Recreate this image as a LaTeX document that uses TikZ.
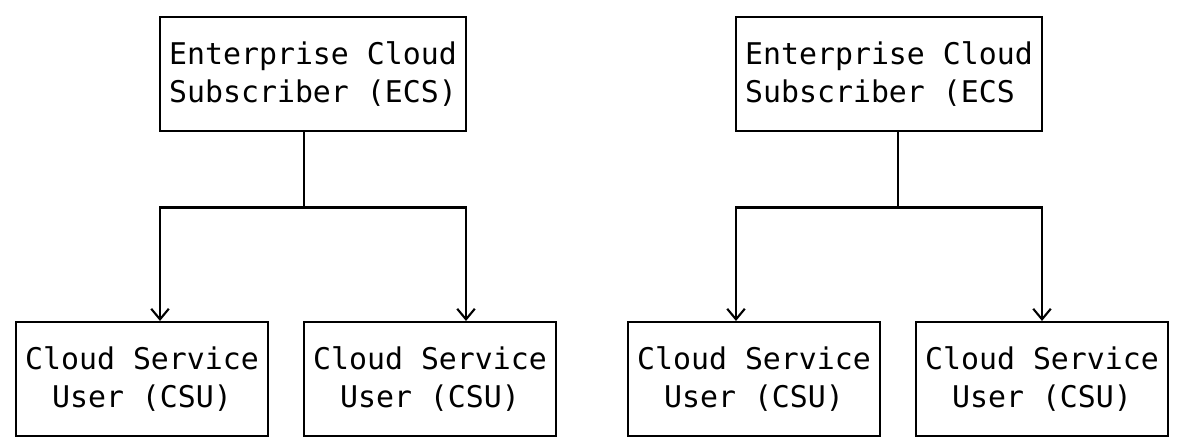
\documentclass[tikz,border=0pt]{standalone}
\usepackage{fontspec}
\newfontfamily\boxfont{DejaVu Sans Mono}
\usetikzlibrary{arrows.meta}
\tikzstyle{box} = [draw=black, line width=1.2pt, rectangle, inner sep=0pt, font={\boxfont\fontsize{17}{21.6}\selectfont}]
\tikzstyle{ecs} = [minimum width=6.12cm, minimum height=2.28cm, align=left]
\tikzstyle{csu} = [minimum width=5.04cm, minimum height=2.28cm, align=center]
\tikzstyle{link} = [draw=black, line width=1.2pt, line cap=rect]

\begin{document}
\begin{tikzpicture}[x=0.02cm, y=-0.02cm, >={Straight Barb[length=6pt,width=10pt]}]
    \useasboundingbox (0,0) rectangle (1186,444);
    % left tree
    \node[box,ecs](ecs1) at (313,74){Enterprise Cloud\\Subscriber (ECS)};
    \node[box,csu](csu1) at (142,379){Cloud Service\\User (CSU)};
    \node[box,csu](csu2) at (430,379){Cloud Service\\User (CSU)};
    \coordinate (split1) at (304,207.5);
    \coordinate (left1) at (160,207.5);
    \coordinate (right1) at (466,207.5);
    \draw[link](split1 |- ecs1.south)--(split1);
    \draw[link](left1)--(right1);
    \draw[link,->](left1)--(left1 |- csu1.north);
    \draw[link,->](right1)--(right1 |- csu2.north);
    % right tree
    \node[box,ecs](ecs2) at (889,74){Enterprise Cloud\\Subscriber (ECS};
    \node[box,csu](csu3) at (754,379){Cloud Service\\User (CSU)};
    \node[box,csu](csu4) at (1042,379){Cloud Service\\User (CSU)};
    \coordinate (split2) at (898,207.5);
    \coordinate (left2) at (736,207.5);
    \coordinate (right2) at (1042,207.5);
    \draw[link](split2 |- ecs2.south)--(split2);
    \draw[link](left2)--(right2);
    \draw[link,->](left2)--(left2 |- csu3.north);
    \draw[link,->](right2)--(right2 |- csu4.north);
\end{tikzpicture}
\end{document}
